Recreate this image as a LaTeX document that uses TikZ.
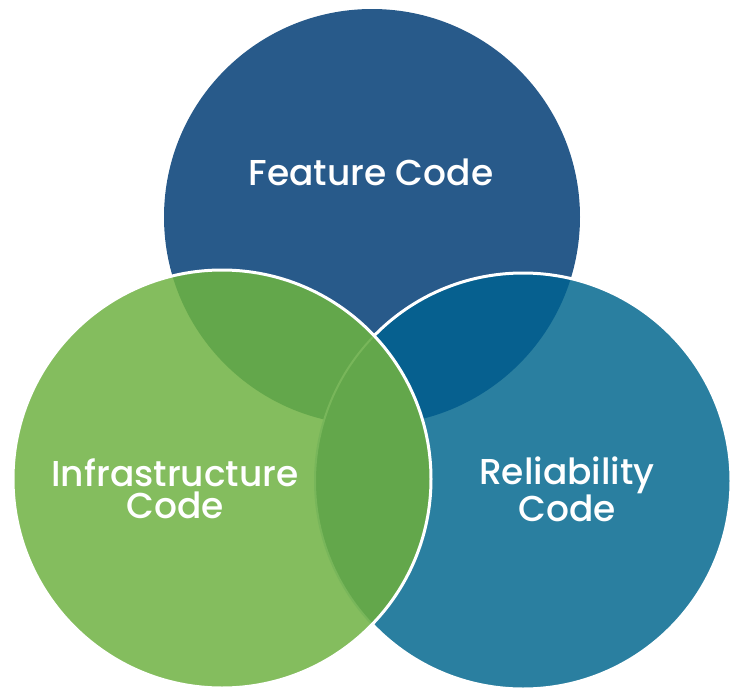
\documentclass[tikz,border=0pt]{standalone}
\usepackage{fontspec}
\setmainfont{Poppins}[UprightFont=* Medium]
\tikzset{
  every picture/.style={x=1pt, y=-1pt},
  lbl/.style={text=white, align=center, font=\fontsize{36}{32.5}\selectfont, inner sep=0pt},
  rim/.style={draw=white, line width=3pt}
}
\definecolor{featblue}{HTML}{285A8A}
\definecolor{relteal}{HTML}{2A7FA0}
\definecolor{infgreen}{HTML}{84BD5E}
\definecolor{darkblue}{HTML}{06608F}
\definecolor{darkgreen}{HTML}{63A74B}
\definecolor{edgegreen}{HTML}{78B65A}

\begin{document}
\begin{tikzpicture}
    \useasboundingbox (0,0) rectangle (750,691);
    \coordinate (fc) at (372,217);
    \coordinate (ic) at (222,479);
    \coordinate (rc) at (523,481);

    % circles, back to front
    \fill [featblue] (fc) circle (208);
    \fill [relteal] (rc) circle (208);
    \begin{scope}
        \clip (rc) circle (208);
        \fill [darkblue] (fc) circle (208);
    \end{scope}
    \draw [rim] (rc) circle (208);
    \fill [infgreen] (ic) circle (209);
    \begin{scope}
        \clip (ic) circle (209);
        \fill [darkgreen] (fc) circle (208);
        \fill [darkgreen] (rc) circle (208);
        \draw [edgegreen, line width=2pt] (rc) circle (208);
    \end{scope}
    \draw [rim] (ic) circle (209);

    \node [lbl] (feat) at (371,172) {Feature Code};
    \node [lbl] (infra) at (175,489) {Infrastructure\\Code};
    \node [lbl] (rel) at (567,489) {Reliability\\Code};
\end{tikzpicture}
\end{document}
